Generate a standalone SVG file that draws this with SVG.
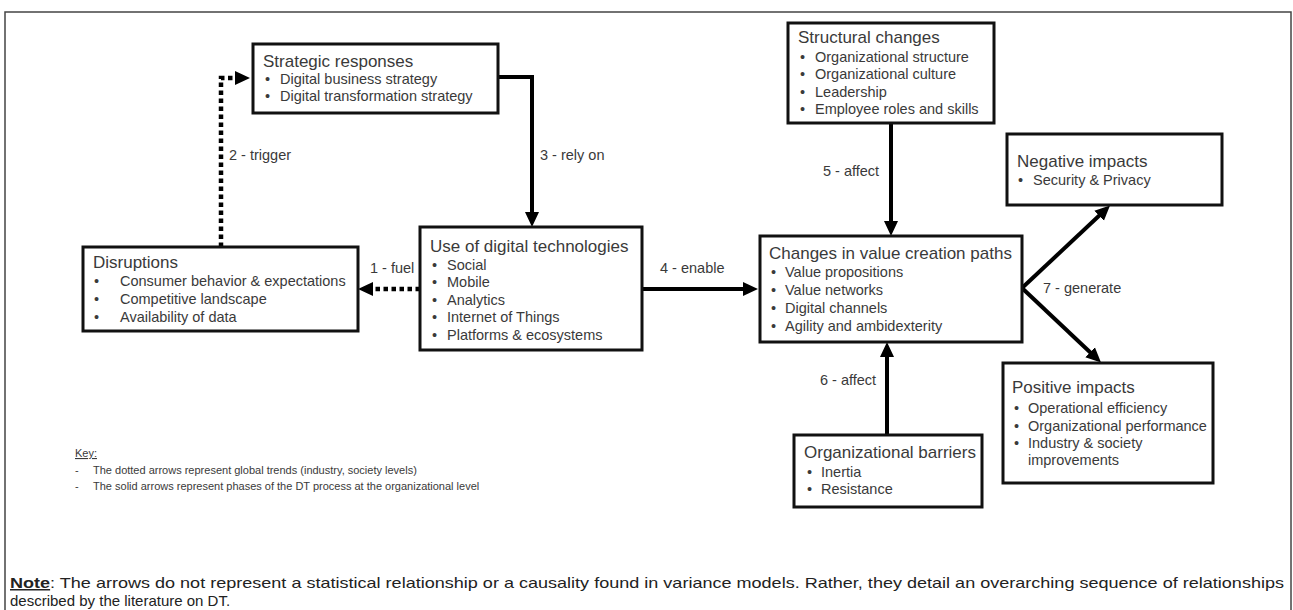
<svg xmlns="http://www.w3.org/2000/svg" width="1293" height="610" viewBox="0 0 1293 610">
<defs>
<style>
.frame{fill:#fff;stroke:#444;stroke-width:1.5}
.box{fill:#fff;stroke:#111;stroke-width:3}
.t{font-family:"Liberation Sans",Arial,sans-serif;fill:#3a3a3a}
.title{font-size:17px}
.item{font-size:14.5px}
.lbl{font-size:14.5px}
.key{font-size:11px}
.note{font-size:15px;fill:#222}
.solid{fill:none;stroke:#000;stroke-width:4}
.dot{fill:none;stroke:#000;stroke-width:4.5;stroke-dasharray:4.5 3.5}
</style>
<marker id="ah" markerUnits="userSpaceOnUse" markerWidth="16" markerHeight="16" viewBox="0 0 16 16" refX="4" refY="8" orient="auto">
<path d="M0,1 L15,8 L0,15 z" fill="#000"/>
</marker>
</defs>
<rect class="frame" x="5" y="12" width="1286" height="700"/>

<g id="connectors">
<path class="dot" d="M221,247 V78 H239" marker-end="url(#ah)"/>
<path class="dot" d="M420,289 H369" marker-end="url(#ah)"/>
<path class="solid" d="M498,77 H532 V216" marker-end="url(#ah)"/>
<path class="solid" d="M642,289 H747" marker-end="url(#ah)"/>
<path class="solid" d="M891,123 V225" marker-end="url(#ah)"/>
<path class="solid" d="M887,435 V353" marker-end="url(#ah)"/>
<path class="solid" d="M1022,288 L1102,213" marker-end="url(#ah)"/>
<path class="solid" d="M1022,288 L1093,355" marker-end="url(#ah)"/>
<text class="t lbl" x="370" y="273">1 - fuel</text>
<text class="t lbl" x="229" y="160">2 - trigger</text>
<text class="t lbl" x="540" y="160">3 - rely on</text>
<text class="t lbl" x="660" y="273">4 - enable</text>
<text class="t lbl" x="823" y="176">5 - affect</text>
<text class="t lbl" x="820" y="385">6 - affect</text>
<text class="t lbl" x="1043" y="293">7 - generate</text>
</g>

<g id="strategic">
<rect class="box" x="253" y="44" width="245" height="69"/>
<text class="t title" x="263" y="67">Strategic responses</text>
<text class="t item" x="265" y="84">•</text><text class="t item" x="280" y="84">Digital business strategy</text>
<text class="t item" x="265" y="101">•</text><text class="t item" x="280" y="101">Digital transformation strategy</text>
</g>

<g id="disruptions">
<rect class="box" x="83" y="247" width="275" height="84"/>
<text class="t title" x="93" y="268">Disruptions</text>
<text class="t item" x="94" y="286">•</text><text class="t item" x="120" y="286">Consumer behavior &amp; expectations</text>
<text class="t item" x="94" y="304">•</text><text class="t item" x="120" y="304">Competitive landscape</text>
<text class="t item" x="94" y="322">•</text><text class="t item" x="120" y="322">Availability of data</text>
</g>

<g id="use">
<rect class="box" x="420" y="227" width="222" height="123"/>
<text class="t title" x="430" y="252">Use of digital technologies</text>
<text class="t item" x="432" y="270">•</text><text class="t item" x="447" y="270">Social</text>
<text class="t item" x="432" y="287">•</text><text class="t item" x="447" y="287">Mobile</text>
<text class="t item" x="432" y="305">•</text><text class="t item" x="447" y="305">Analytics</text>
<text class="t item" x="432" y="322">•</text><text class="t item" x="447" y="322">Internet of Things</text>
<text class="t item" x="432" y="340">•</text><text class="t item" x="447" y="340">Platforms  &amp; ecosystems</text>
</g>

<g id="structural">
<rect class="box" x="788" y="23" width="206" height="100"/>
<text class="t title" x="798" y="43">Structural changes</text>
<text class="t item" x="800" y="62">•</text><text class="t item" x="815" y="62">Organizational structure</text>
<text class="t item" x="800" y="79">•</text><text class="t item" x="815" y="79">Organizational culture</text>
<text class="t item" x="800" y="97">•</text><text class="t item" x="815" y="97">Leadership</text>
<text class="t item" x="800" y="114">•</text><text class="t item" x="815" y="114">Employee roles and skills</text>
</g>

<g id="changes">
<rect class="box" x="760" y="236" width="262" height="106"/>
<text class="t title" x="769" y="259">Changes in value creation paths</text>
<text class="t item" x="771" y="277">•</text><text class="t item" x="785" y="277">Value propositions</text>
<text class="t item" x="771" y="295">•</text><text class="t item" x="785" y="295">Value networks</text>
<text class="t item" x="771" y="313">•</text><text class="t item" x="785" y="313">Digital channels</text>
<text class="t item" x="771" y="331">•</text><text class="t item" x="785" y="331">Agility and ambidexterity</text>
</g>

<g id="negative">
<rect class="box" x="1007" y="134" width="215" height="71"/>
<text class="t title" x="1017" y="167">Negative impacts</text>
<text class="t item" x="1018" y="185">•</text><text class="t item" x="1033" y="185">Security &amp; Privacy</text>
</g>

<g id="positive">
<rect class="box" x="1003" y="363" width="210" height="120"/>
<text class="t title" x="1012" y="393">Positive impacts</text>
<text class="t item" x="1014" y="413">•</text><text class="t item" x="1028" y="413">Operational efficiency</text>
<text class="t item" x="1014" y="431">•</text><text class="t item" x="1028" y="431">Organizational performance</text>
<text class="t item" x="1014" y="448">•</text><text class="t item" x="1028" y="448">Industry &amp; society</text>
<text class="t item" x="1028" y="465">improvements</text>
</g>

<g id="barriers">
<rect class="box" x="794" y="435" width="188" height="72"/>
<text class="t title" x="804" y="458">Organizational barriers</text>
<text class="t item" x="807" y="477">•</text><text class="t item" x="821" y="477">Inertia</text>
<text class="t item" x="807" y="494">•</text><text class="t item" x="821" y="494">Resistance</text>
</g>

<g id="key">
<text class="t key" x="75" y="457" text-decoration="underline">Key:</text>
<text class="t key" x="75" y="474">-</text><text class="t key" x="93" y="474">The dotted arrows represent global trends (industry, society levels)</text>
<text class="t key" x="75" y="490">-</text><text class="t key" x="93" y="490">The solid arrows represent phases of the DT process at the organizational level</text>
</g>

<g id="note">
<text class="t note" x="10" y="588" textLength="1274" lengthAdjust="spacingAndGlyphs"><tspan font-weight="bold" text-decoration="underline">Note</tspan>: The arrows do not represent a statistical relationship or a causality found in variance models. Rather, they detail an overarching sequence of relationships</text>
<text class="t note" x="10" y="606">described by the literature on DT.</text>
</g>
</svg>
